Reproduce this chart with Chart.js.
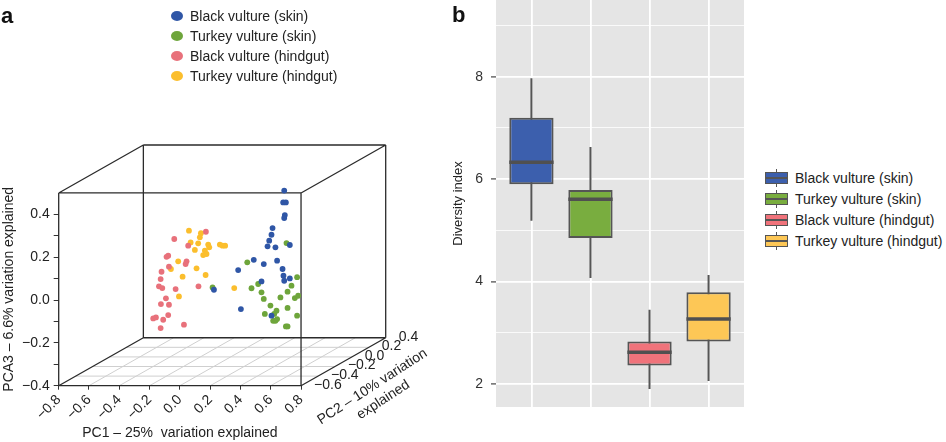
<!DOCTYPE html>
<html>
<head>
<meta charset="utf-8">
<title>Vulture microbiome: PCA and diversity</title>
<script src="https://cdn.jsdelivr.net/npm/chart.js@4.4.1/dist/chart.umd.min.js"></script>
<style>
  body { margin: 0; width: 946px; height: 442px; position: relative; overflow: hidden; background: #fff;
         font-family: "Liberation Sans", Arial, Helvetica, sans-serif; color: #222; }
  canvas { position: absolute; top: 0; }
  #chartA { left: 0; }
  #chartB { left: 440px; }
  .tag { position: absolute; font-size: 22px; font-weight: bold; line-height: 1; color: #111; }
  .legend { position: absolute; font-size: 14px; }
  .legend .row { display: flex; align-items: center; height: 20px; white-space: nowrap; }
  #legendA { left: 171px; top: 6px; }
  #legendA .dot { width: 12px; height: 10px; border-radius: 50%; margin-right: 7px; }
  #legendB { left: 765px; top: 167.5px; }
  #legendB .row { height: 21px; }
  .key { position: relative; width: 23px; height: 21px; margin-right: 7px; }
  .key .wh { position: absolute; left: 10.7px; width: 1.6px; top: 1.5px; bottom: 1.5px; background: #555; }
  .key .bx { position: absolute; left: 0; right: 0; top: 4.5px; height: 12px; border: 1.6px solid #555; box-sizing: border-box; }
  .key .md { position: absolute; left: 0; right: 0; top: 9.5px; height: 2px; background: #555; }
</style>
</head>
<body>
<canvas id="chartA" width="470" height="442"></canvas>
<canvas id="chartB" width="306" height="442"></canvas>
<div class="tag" style="left:1px; top:4.5px">a</div>
<div class="tag" style="left:452px; top:3.5px">b</div>
<div class="legend" id="legendA"></div>
<div class="legend" id="legendB"></div>

<script>
// ---- data ----
const groups = ['Black vulture (skin)', 'Turkey vulture (skin)', 'Black vulture (hindgut)', 'Turkey vulture (hindgut)'];
const dotColors = ['#2f56a6', '#6ea53b', '#e8717b', '#fbbe2d'];
const boxColors = ['#3c5fad', '#79ad3f', '#f0737b', '#fdc756'];

// panel a axes
const pc1Ticks = [-0.8, -0.6, -0.4, -0.2, 0, 0.2, 0.4, 0.6, 0.8];
const pc2Ticks = [-0.6, -0.4, -0.2, 0, 0.2, 0.4];
const pc3Ticks = [-0.4, -0.2, 0, 0.2, 0.4];
const pc3Top = 0.5;

// panel a samples, [PC1, PC3] as seen on the front face
const blackSkin = [[0.689, 0.511], [0.682, 0.456], [0.700, 0.456], [0.693, 0.397], [0.689, 0.383], [0.612, 0.336],
  [0.605, 0.305], [0.590, 0.277], [0.579, 0.251], [0.631, 0.246], [0.726, 0.257], [0.488, 0.188], [0.554, 0.168],
  [0.642, 0.184], [0.385, 0.140], [0.678, 0.145], [0.684, 0.114], [0.689, 0.090], [0.726, 0.101], [0.539, 0.087],
  [0.225, 0.048], [0.403, -0.042], [0.605, -0.073]];
const turkeySkin = [[0.704, 0.266], [0.445, 0.176], [0.774, 0.107], [0.473, 0.055], [0.517, 0.075], [0.539, 0.036],
  [0.554, 0.005], [0.737, 0.067], [0.711, 0.039], [0.664, 0.012], [0.759, 0.009], [0.781, 0.020], [0.598, -0.026],
  [0.638, -0.050], [0.711, -0.037], [0.561, -0.065], [0.623, -0.065], [0.642, -0.089], [0.616, -0.097],
  [0.631, -0.097], [0.774, -0.073], [0.700, -0.123], [0.711, -0.123], [0.216, 0.059]];
const blackGut = [[-0.037, 0.285], [0.172, 0.319], [0.055, 0.254], [-0.077, 0.207], [-0.088, 0.202], [0.044, 0.181],
  [0.038, 0.168], [-0.072, 0.156], [-0.121, 0.132], [-0.127, 0.098], [-0.138, 0.064], [-0.116, 0.056], [-0.028, 0.051],
  [0.123, 0.064], [-0.092, 0.008], [-0.125, -0.019], [-0.072, -0.022], [-0.077, -0.070], [-0.158, -0.081],
  [-0.176, -0.086], [-0.110, -0.092], [0.027, -0.115], [-0.127, -0.131]];
const turkeyGut = [[0.060, 0.324], [0.139, 0.312], [0.132, 0.293], [0.071, 0.269], [0.121, 0.265], [0.187, 0.259],
  [0.194, 0.246], [0.099, 0.234], [0.165, 0.231], [0.154, 0.210], [0.176, 0.215], [0.264, 0.259], [0.282, 0.254],
  [0.299, 0.254], [-0.011, 0.181], [-0.059, 0.145], [0.110, 0.148], [0.018, 0.109], [0.170, 0.117], [-0.006, 0.017],
  [0.359, 0.056]];

// panel b boxplot stats
const divTicks = [2, 4, 6, 8];
const divMin = 1.55, divMax = 9.5;
const whiskerLow  = [5.19, 4.07, 1.90, 2.06];
const q1          = [5.90, 4.85, 2.36, 2.83];
const median      = [6.33, 5.61, 2.62, 3.27];
const q3          = [7.20, 5.79, 2.83, 3.79];
const whiskerHigh = [7.97, 6.63, 3.45, 4.13];

// ---- helpers ----
const FONT = '"Liberation Sans", Arial, Helvetica, sans-serif';
Chart.defaults.font.family = FONT;
Chart.defaults.color = '#222';

const fmt = v => (v < 0 ? '\u2212' : '') + Math.abs(v).toFixed(1);

// oblique projection of the PC2 (depth) axis onto the front face
const DEPTH_X = 0.559, DEPTH_Y = 0.224;
const pc1Lim = [pc1Ticks[0], pc1Ticks[pc1Ticks.length - 1]];
const pc2Lim = [pc2Ticks[0], pc2Ticks[pc2Ticks.length - 1]];
const pc3Lim = [pc3Ticks[0], pc3Top];
function proj(a, b, c) {
  const d = b - pc2Lim[0];
  return { x: a + DEPTH_X * d, y: c + DEPTH_Y * d };
}
// list of [p, q] -> one line with gaps
function segments(pairs) {
  const out = [];
  pairs.forEach(([p, q]) => out.push(p, q, { x: p.x, y: null }));
  return out;
}

// box edges and floor grid
const [x0, x1] = pc1Lim, [z0, z1] = pc2Lim, [y0, y1] = pc3Lim;
const edges = [];
[z0, z1].forEach(z => {
  edges.push([proj(x0, z, y0), proj(x1, z, y0)], [proj(x0, z, y1), proj(x1, z, y1)],
             [proj(x0, z, y0), proj(x0, z, y1)], [proj(x1, z, y0), proj(x1, z, y1)]);
});
[[x0, y0], [x1, y0], [x0, y1], [x1, y1]].forEach(([x, y]) => edges.push([proj(x, z0, y), proj(x, z1, y)]));

const floor = [];
pc1Ticks.slice(1, -1).forEach(v => floor.push([proj(v, z0, y0), proj(v, z1, y0)]));
pc2Ticks.slice(1, -1).forEach(v => floor.push([proj(x0, v, y0), proj(x1, v, y0)]));

const pc3Minor = [];
pc3Ticks.forEach((v, i) => {
  pc3Minor.push(v);
  if (i < pc3Ticks.length - 1) pc3Minor.push(Math.round((v + pc3Ticks[i + 1]) * 5) / 10);
});

// --- panel a text (titles + PC2 ticks) ---
const panelAText = {
  id: 'panelAText',
  afterDraw(chart) {
    const { ctx, scales: { x, y } } = chart;
    const px = p => [x.getPixelForValue(p.x), y.getPixelForValue(p.y)];
    ctx.save();
    ctx.fillStyle = '#222';
    ctx.font = '14px ' + FONT;

    ctx.textAlign = 'left';
    ctx.textBaseline = 'middle';
    pc2Ticks.forEach(v => {
      const [X, Y] = px(proj(pc1Lim[1], v, pc3Lim[0]));
      ctx.fillText(fmt(v), X + 13, Y - 1);
    });

    const [fx0, fy0] = px({ x: pc1Lim[0], y: pc3Lim[0] });
    const [fx1, fy1] = px({ x: pc1Lim[1], y: pc3Lim[1] });
    ctx.textAlign = 'center';
    ctx.fillText('PC1 \u2013 25%  variation explained', (fx0 + fx1) / 2, fy0 + 47);

    ctx.save();
    ctx.translate(9, (fy0 + fy1) / 2);
    ctx.rotate(-Math.PI / 2);
    ctx.fillText('PCA3 \u2013 6.6% variation explained', 0, 0);
    ctx.restore();

    const [mx, my] = px(proj(pc1Lim[1], (pc2Lim[0] + pc2Lim[1]) / 2, pc3Lim[0]));
    ctx.translate(mx + 29, my + 25);
    ctx.rotate(-33 * Math.PI / 180);
    ctx.fillText('PC2 \u2013 10% variation', 0, 0);
    ctx.fillText('explained', 2, 17);
    ctx.restore();
  }
};

const pointSets = [blackSkin, turkeySkin, blackGut, turkeyGut].map((pts, i) => ({
  label: groups[i],
  data: pts.map(([a, c]) => ({ x: a, y: c })),
  backgroundColor: dotColors[i],
  borderWidth: 0,
  pointRadius: 2.9,
  order: 1
}));

new Chart(document.getElementById('chartA'), {
  type: 'scatter',
  data: {
    datasets: [
      ...pointSets,
      { data: segments(edges), showLine: true, borderColor: '#2b2b2b', borderWidth: 1.3, pointRadius: 0, clip: false, order: 5 },
      { data: segments(floor), showLine: true, borderColor: '#cfcfcf', borderWidth: 1, pointRadius: 0, order: 6 }
    ]
  },
  options: {
    responsive: false,
    animation: false,
    events: [],
    layout: { padding: { top: 145, right: 84.3, left: 0, bottom: 0 } },
    plugins: { legend: { display: false }, tooltip: { enabled: false } },
    scales: {
      x: {
        type: 'linear',
        min: pc1Lim[0],
        max: proj(pc1Lim[1], pc2Lim[1], 0).x,
        afterBuildTicks: s => { s.ticks = pc1Ticks.map(v => ({ value: v })); },
        afterFit: s => { s.height = 56.3; s.paddingLeft = 0; s.paddingRight = 0; },
        grid: { drawOnChartArea: false, drawTicks: true, tickLength: 4, tickColor: '#333', tickWidth: 1 },
        border: { display: false },
        ticks: { autoSkip: false, minRotation: 45, maxRotation: 45, padding: 2, color: '#222',
                 font: { size: 14 }, callback: v => fmt(v) }
      },
      y: {
        type: 'linear',
        min: pc3Lim[0],
        max: proj(0, pc2Lim[1], pc3Lim[1]).y,
        afterBuildTicks: s => { s.ticks = pc3Minor.map(v => ({ value: v })); },
        afterFit: s => { s.width = 58.7; s.paddingTop = 0; s.paddingBottom = 0; },
        grid: { drawOnChartArea: false, drawTicks: true, tickLength: 5, tickColor: '#333', tickWidth: 1 },
        border: { display: false },
        ticks: { autoSkip: false, padding: 4, color: '#222', font: { size: 14 },
                 callback: v => pc3Ticks.some(t => Math.abs(t - v) < 1e-6) ? fmt(v) : '' }
      }
    }
  },
  plugins: [panelAText]
});

// --- panel b ---
const slots = groups.map((g, i) => i + 1);
const HALF = 0.375;
const whiskerSegs = segments(slots.map((s, i) => [{ x: s, y: whiskerLow[i] }, { x: s, y: whiskerHigh[i] }]));
const medianSegs = segments(slots.map((s, i) => [{ x: s - HALF, y: median[i] }, { x: s + HALF, y: median[i] }]));
const yLines = [];
divTicks.forEach(v => { yLines.push(v); if (v + 1 < divMax) yLines.push(v + 1); });

const panelBackground = {
  id: 'panelBackground',
  beforeDraw(chart) {
    const { ctx, chartArea: a } = chart;
    ctx.save();
    ctx.fillStyle = '#e5e5e5';
    ctx.fillRect(a.left, a.top, a.right - a.left, a.bottom - a.top);
    ctx.restore();
  }
};

new Chart(document.getElementById('chartB'), {
  type: 'bar',
  data: {
    datasets: [
      { type: 'scatter', data: whiskerSegs, showLine: true, borderColor: '#555', borderWidth: 2, pointRadius: 0, order: 3 },
      { type: 'bar', data: slots.map((s, i) => ({ x: s, y: [q1[i], q3[i]] })), backgroundColor: boxColors,
        borderColor: '#555', borderWidth: 2, borderSkipped: false, categoryPercentage: 1, barPercentage: 0.75, order: 2 },
      { type: 'scatter', data: medianSegs, showLine: true, borderColor: '#505050', borderWidth: 3.5, pointRadius: 0, order: 1 }
    ]
  },
  options: {
    responsive: false,
    animation: false,
    events: [],
    layout: { padding: { top: 0, left: 0, right: 2, bottom: 0 } },
    plugins: { legend: { display: false }, tooltip: { enabled: false } },
    scales: {
      x: {
        type: 'linear',
        min: 0.4,
        max: 4.6,
        offset: false,
        afterBuildTicks: s => { s.ticks = slots.map(v => ({ value: v })); },
        afterFit: s => { s.height = 35; s.paddingLeft = 0; s.paddingRight = 0; },
        grid: { offset: false, color: '#fff', lineWidth: 1.8, drawTicks: false },
        border: { display: false },
        ticks: { display: false }
      },
      y: {
        type: 'linear',
        min: divMin,
        max: divMax,
        afterBuildTicks: s => { s.ticks = yLines.map(v => ({ value: v })); },
        afterFit: s => { s.width = 56; s.paddingTop = 0; s.paddingBottom = 0; },
        grid: {
          color: '#fff',
          lineWidth: c => (c.tick && divTicks.includes(c.tick.value)) ? 1.8 : 0.8,
          tickColor: c => (c.tick && divTicks.includes(c.tick.value)) ? '#444' : 'rgba(0,0,0,0)',
          tickLength: 5,
          tickWidth: 1.2
        },
        border: { display: false },
        ticks: { autoSkip: false, padding: 8, color: '#333', font: { size: 14 },
                 callback: v => divTicks.includes(v) ? String(v) : '' },
        title: { display: true, text: 'Diversity index', color: '#222', font: { size: 13 }, padding: { top: 11, bottom: 0 } }
      }
    }
  },
  plugins: [panelBackground]
});

// --- legends ---
const legendA = document.getElementById('legendA');
groups.forEach((g, i) => {
  const row = document.createElement('div');
  row.className = 'row';
  row.innerHTML = `<span class="dot" style="background:${dotColors[i]}"></span><span>${g}</span>`;
  legendA.appendChild(row);
});
const legendB = document.getElementById('legendB');
groups.forEach((g, i) => {
  const row = document.createElement('div');
  row.className = 'row';
  row.innerHTML = `<span class="key"><span class="wh"></span><span class="bx" style="background:${boxColors[i]}"></span><span class="md"></span></span><span>${g}</span>`;
  legendB.appendChild(row);
});
</script>
</body>
</html>
